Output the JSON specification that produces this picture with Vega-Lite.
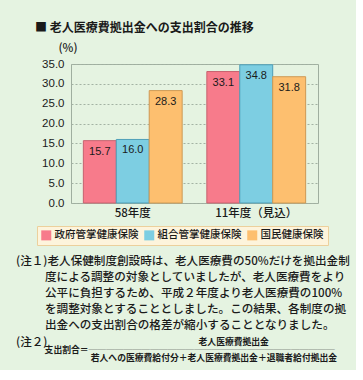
{
  "$schema": "https://vega.github.io/schema/vega-lite/v6.json",
  "background": "#e5f3e1",
  "padding": {"left": 15, "top": 21, "right": 5, "bottom": 6},
  "title": {
    "text": "■ 老人医療費拠出金への支出割合の推移",
    "anchor": "start",
    "frame": "group",
    "dx": -36,
    "offset": 7,
    "font": "Noto Sans CJK JP",
    "fontSize": 12,
    "fontWeight": "bold",
    "color": "#1a1a1a"
  },
  "config": {
    "view": {"stroke": "#9fae9f", "strokeWidth": 1},
    "axis": {"ticks": false, "tickSize": 0, "domain": false, "labelColor": "#1a1a1a", "titleColor": "#1a1a1a"}
  },
  "vconcat": [
    {
      "width": 247,
      "height": 139,
      "title": {
        "text": [
          "(注１)老人保健制度創設時は、老人医療費の50%だけを拠出金制",
          "\u200d\u3000\u3000\u2002度による調整の対象としていましたが、老人医療費をより",
          "\u200d\u3000\u3000\u2002公平に負担するため、平成２年度より老人医療費の100%",
          "\u200d\u3000\u3000\u2002を調整対象とすることとしました。この結果、各制度の拠",
          "\u200d\u3000\u3000\u2002出金への支出割合の格差が縮小することとなりました。",
          "(注２)"
        ],
        "subtitle": [
          "\u200d\u3000\u3000\u3000\u3000\u3000\u3000\u3000\u3000\u3000\u3000\u3000\u3000\u3000\u3000\u3000\u3000\u3000\u3000\u3000\u3000\u2002\u2005老人医療費拠出金",
          "\u200d\u3000\u3000\u3000\u2005支出割合＝────────────────────────────",
          "\u200d\u3000\u3000\u3000\u3000\u3000\u3000\u3000\u3000\u2002若人への医療費給付分＋老人医療費拠出金＋退職者給付拠出金"
        ],
        "orient": "bottom",
        "anchor": "start",
        "frame": "group",
        "dx": -55,
        "offset": 37,
        "font": "Noto Sans CJK JP",
        "fontSize": 11.6,
        "fontWeight": 500,
        "lineHeight": 16.2,
        "color": "#1a1a1a",
        "subtitleFont": "Noto Sans CJK JP",
        "subtitleFontSize": 8.8,
        "subtitleFontWeight": "bold",
        "subtitleLineHeight": 8,
        "subtitlePadding": -10,
        "subtitleColor": "#1a1a1a"
      },
      "data": {
        "values": [
          {"year": "58年度", "type": "政府管掌健康保険", "value": 15.7},
          {"year": "58年度", "type": "組合管掌健康保険", "value": 16.0},
          {"year": "58年度", "type": "国民健康保険", "value": 28.3},
          {"year": "11年度（見込）", "type": "政府管掌健康保険", "value": 33.1},
          {"year": "11年度（見込）", "type": "組合管掌健康保険", "value": 34.8},
          {"year": "11年度（見込）", "type": "国民健康保険", "value": 31.8}
        ]
      },
      "encoding": {
        "x": {
          "field": "year", "type": "nominal", "sort": ["58年度", "11年度（見込）"],
          "scale": {"paddingInner": 0.2, "paddingOuter": 0.1},
          "axis": {"title": null, "labelAngle": 0, "labelFont": "Noto Sans CJK JP", "labelFontSize": 11.5, "labelFontWeight": 500, "labelPadding": 4}
        },
        "xOffset": {
          "field": "type", "type": "nominal",
          "sort": ["政府管掌健康保険", "組合管掌健康保険", "国民健康保険"],
          "scale": {"paddingInner": 0, "paddingOuter": 0}
        },
        "y": {
          "field": "value", "type": "quantitative",
          "scale": {"domain": [0, 35], "nice": false},
          "axis": {
            "title": "(%)", "titleAngle": 0, "titleAlign": "left", "titleBaseline": "bottom",
            "titleX": -13, "titleY": -11, "titleFont": "Noto Sans CJK JP", "titleFontSize": 11.5, "titleFontWeight": 500,
            "values": [0, 5, 10, 15, 20, 25, 30, 35], "format": ".1f",
            "labelFont": "Liberation Sans", "labelFontSize": 11.5, "labelPadding": 7,
            "gridColor": "#a3b2a3", "gridDash": [2, 2], "gridWidth": 1
          }
        }
      },
      "layer": [
        {
          "mark": {"type": "bar", "color": "#c4c4c4", "xOffset": 3, "yOffset": 3, "clip": true},
          "encoding": {}
        },
        {
          "mark": {"type": "bar", "strokeWidth": 1},
          "encoding": {
            "color": {
              "field": "type", "type": "nominal",
              "scale": {"domain": ["政府管掌健康保険", "組合管掌健康保険", "国民健康保険"], "range": ["#f77b8b", "#7dcee2", "#fdbf6f"]},
              "legend": {
                "title": null, "orient": "none", "legendX": -34, "legendY": 162, "direction": "horizontal",
                "symbolType": "square", "symbolSize": 100, "symbolStrokeWidth": 0,
                "labelFont": "Noto Sans CJK JP", "labelFontSize": 10.5, "labelFontWeight": 500, "labelColor": "#1a1a1a", "labelOffset": 3,
                "columnPadding": 5, "padding": 4, "fillColor": "#fdf4dc", "strokeColor": "#ecd09c"
              }
            },
            "stroke": {
              "field": "type", "type": "nominal",
              "scale": {"domain": ["政府管掌健康保険", "組合管掌健康保険", "国民健康保険"], "range": ["#c8626f", "#4f9fb8", "#cf9a55"]},
              "legend": null
            }
          }
        },
        {
          "mark": {"type": "text", "baseline": "top", "dy": 5, "font": "Liberation Sans", "fontSize": 11, "color": "#1a1a1a"},
          "encoding": {"text": {"field": "value", "type": "quantitative", "format": ".1f"}}
        }
      ]
    }
  ]
}
